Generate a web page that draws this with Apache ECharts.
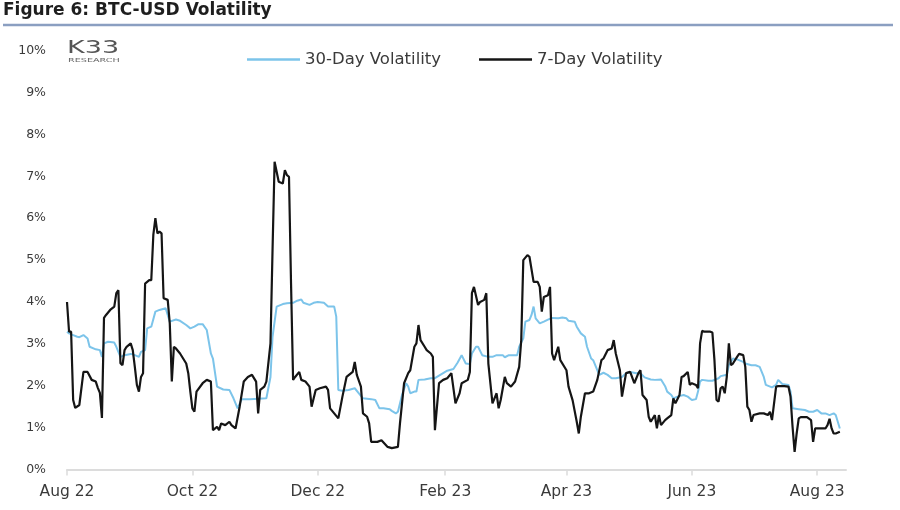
<!DOCTYPE html>
<html>
<head>
<meta charset="utf-8">
<script src="https://cdn.jsdelivr.net/npm/echarts@6/dist/echarts.min.js"></script>
<style>
html,body{margin:0;padding:0;background:#fff;}
#chart{width:900px;height:510px;}
</style>
</head>
<body>
<div id="chart"></div>
<script>
// ---- data ----
const startDate = '2022-08-01';           // day 0
// 7-Day volatility: day offsets since startDate and values (%)
const days7 = [0,1,2,3,4,6,8,10,12,14,15,16,17,18,19,21,23,24,25,26,27,28,29,31,32,33,34,35,36,37,38,40,41,42,43,44,45,46,47,49,50,51,52,53,55,58,59,60,61,62,63,66,68,70,71,73,74,75,77,79,80,82,84,86,88,90,92,93,94,96,97,99,100,101,103,105,106,107,108,109,110,111,113,114,116,118,119,121,123,126,127,128,130,132,134,136,139,140,141,143,144,146,147,148,151,153,156,158,161,162,164,166,167,169,170,171,172,174,175,177,178,179,181,183,185,187,189,191,192,195,196,197,198,200,201,203,204,205,207,209,210,211,213,214,216,218,220,221,222,224,225,227,229,230,231,232,234,235,236,237,239,240,243,244,246,248,249,250,252,254,256,258,260,261,263,265,266,267,269,270,272,274,276,278,279,280,282,283,284,286,287,288,289,291,292,294,295,296,298,299,300,302,303,304,306,307,308,309,310,313,314,315,316,317,318,319,320,321,322,323,324,326,327,329,330,331,332,333,334,337,339,341,342,343,345,346,349,351,352,353,354,355,356,357,360,362,363,364,366,369,370,371,372,373,374,376];
const vol7 = [4.00,3.29,3.29,1.66,1.47,1.54,2.33,2.33,2.14,2.10,1.95,1.83,1.23,3.62,3.69,3.81,3.89,4.21,4.28,2.54,2.49,2.85,2.93,3.01,2.85,2.45,2.02,1.86,2.21,2.30,4.44,4.52,4.52,5.60,6.00,5.64,5.68,5.64,4.09,4.05,3.49,2.10,2.93,2.89,2.77,2.53,2.30,1.86,1.46,1.38,1.86,2.06,2.14,2.10,0.94,1.02,0.94,1.10,1.06,1.14,1.06,0.98,1.50,2.10,2.21,2.26,2.10,1.34,1.90,1.98,2.10,3.01,5.24,7.35,6.87,6.83,7.15,7.03,6.99,4.44,2.14,2.21,2.33,2.14,2.10,1.98,1.50,1.90,1.94,1.98,1.90,1.46,1.34,1.22,1.74,2.21,2.33,2.57,2.26,1.98,1.34,1.26,1.10,0.66,0.66,0.70,0.54,0.51,0.54,1.10,2.06,2.30,2.37,2.93,3.01,3.45,3.09,2.93,2.85,2.77,2.69,0.94,2.06,2.14,2.18,2.30,1.58,1.82,2.06,2.14,2.33,4.21,4.36,3.93,4.00,4.05,4.21,2.53,1.58,1.82,1.46,1.66,2.21,2.06,1.98,2.10,2.45,3.09,5.00,5.12,5.08,4.48,4.48,4.36,3.77,4.12,4.16,4.36,2.77,2.61,2.93,2.61,2.37,1.98,1.65,1.14,0.86,1.26,1.82,1.82,1.86,2.14,2.61,2.65,2.85,2.89,3.09,2.77,2.37,1.74,2.30,2.33,2.06,2.30,2.37,1.78,1.66,1.26,1.14,1.30,0.98,1.30,1.06,1.18,1.22,1.30,1.70,1.58,1.78,2.21,2.23,2.33,2.02,2.06,2.02,1.94,3.01,3.31,3.29,3.29,3.27,2.61,1.66,1.62,1.94,1.98,1.82,2.21,3.01,2.49,2.53,2.69,2.76,2.73,2.45,1.50,1.42,1.14,1.30,1.34,1.34,1.30,1.38,1.18,1.98,1.99,1.99,1.98,1.74,1.02,0.42,0.86,1.22,1.25,1.25,1.18,0.66,0.98,0.98,0.98,1.06,1.21,0.98,0.86,0.86,0.90];
// 30-Day volatility
const days30 = [0,1,3,5,6,8,10,11,14,16,17,18,20,23,24,26,28,31,33,35,36,38,39,41,43,45,48,49,50,53,55,58,60,62,64,66,68,70,71,73,76,79,81,83,85,89,97,99,100,102,105,107,110,112,114,115,118,120,122,125,127,130,131,132,134,137,140,142,144,148,150,152,154,157,158,160,161,163,165,166,167,169,170,171,174,177,179,182,185,188,190,192,194,196,197,199,200,202,205,207,209,212,213,215,219,220,222,223,225,226,227,228,230,232,234,236,239,241,243,244,247,248,250,252,253,255,256,258,259,261,263,265,267,270,272,274,277,279,281,284,286,289,291,292,294,295,297,300,302,304,306,307,308,309,312,314,317,318,321,322,324,326,329,330,333,335,337,339,340,343,345,346,348,351,352,353,356,359,361,363,365,367,369,371,373,374,376];
const vol30 = [3.29,3.25,3.21,3.17,3.16,3.21,3.13,2.93,2.87,2.85,2.69,3.01,3.05,3.03,2.93,2.69,2.73,2.76,2.73,2.69,2.81,2.85,3.37,3.41,3.77,3.81,3.85,3.69,3.53,3.58,3.55,3.45,3.37,3.41,3.47,3.47,3.33,2.77,2.65,1.98,1.91,1.90,1.70,1.46,1.68,1.68,1.70,2.21,3.17,3.89,3.95,3.97,3.98,4.03,4.06,3.98,3.93,3.98,4.00,3.98,3.89,3.89,3.65,1.90,1.88,1.90,1.94,1.82,1.70,1.68,1.66,1.46,1.46,1.44,1.40,1.34,1.38,1.78,2.06,1.98,1.82,1.86,1.86,2.14,2.15,2.18,2.18,2.27,2.36,2.40,2.55,2.73,2.53,2.52,2.77,2.93,2.93,2.73,2.69,2.69,2.73,2.73,2.68,2.73,2.73,2.93,3.13,3.53,3.57,3.69,3.89,3.61,3.49,3.53,3.58,3.62,3.61,3.63,3.61,3.55,3.53,3.41,3.25,3.17,2.93,2.65,2.61,2.37,2.26,2.31,2.26,2.18,2.18,2.21,2.30,2.33,2.30,2.30,2.20,2.15,2.14,2.15,1.99,1.86,1.78,1.70,1.74,1.78,1.74,1.66,1.68,1.86,2.10,2.14,2.12,2.12,2.18,2.23,2.26,2.49,2.65,2.63,2.57,2.53,2.49,2.49,2.45,2.21,2.02,1.96,2.02,2.14,2.04,2.02,1.86,1.46,1.44,1.42,1.38,1.38,1.42,1.34,1.34,1.30,1.34,1.30,0.98];
// axis ticks
const yTicks = [0,1,2,3,4,5,6,7,8,9,10];
const xTickDates = ['2022-08-01','2022-10-01','2022-12-01','2023-02-01','2023-04-01','2023-06-01','2023-08-01'];
const xTickLabels = ['Aug 22','Oct 22','Dec 22','Feb 23','Apr 23','Jun 23','Aug 23'];
const axisEndDay = 379;

// ---- build ----
const DAY = 86400000;
const t0 = Date.parse(startDate + 'T00:00:00Z');
const tickDays = xTickDates.map(s => Math.round((Date.parse(s + 'T00:00:00Z') - t0) / DAY));
const pairs = (ds, vs) => ds.map((d, i) => [d, vs[i]]);

const FONT = "'DejaVu Sans', 'Open Sans', sans-serif";
const chart = echarts.init(document.getElementById('chart'), null, {renderer: 'canvas'});
chart.setOption({
  animation: false,
  backgroundColor: '#ffffff',
  textStyle: {fontFamily: FONT},
  graphic: [
    {type: 'text', left: 3, top: 2, style: {text: 'Figure 6: BTC-USD Volatility', fontFamily: FONT, fontWeight: 'bold', fontSize: 17, fill: '#1e1e1e'}},
    {type: 'line', shape: {x1: 3, y1: 25, x2: 893, y2: 25}, style: {stroke: '#8b9fc1', lineWidth: 2.5}},
    {type: 'text', x: 67, y: 39, scaleX: 1.5, style: {text: 'K33', fontFamily: FONT, fontWeight: 'normal', fontSize: 18, fill: '#555555'}},
    {type: 'text', x: 68, y: 57.5, scaleX: 1.75, style: {text: 'RESEARCH', fontFamily: FONT, fontSize: 5.5, fill: '#666666'}}
  ],
  legend: {
    left: 247, top: 51, padding: 0,
    itemWidth: 53, itemHeight: 2.5, itemGap: 38,
    icon: 'rect',
    textStyle: {fontSize: 16.5, color: '#3a3a3a', fontFamily: FONT},
    data: ['30-Day Volatility', '7-Day Volatility']
  },
  grid: {left: 67, right: 54, top: 50.7, bottom: 40.5, containLabel: false},
  xAxis: {
    type: 'value',
    min: 0, max: axisEndDay,
    axisLine: {show: true, lineStyle: {color: '#dcdcdc', width: 2}},
    axisTick: {show: true, customValues: tickDays, length: 6, lineStyle: {color: '#dcdcdc', width: 1.5}},
    axisLabel: {
      customValues: tickDays, margin: 14, fontSize: 15.5, color: '#3a3a3a', fontFamily: FONT,
      formatter: v => { const i = tickDays.indexOf(v); return i >= 0 ? xTickLabels[i] : ''; }
    },
    splitLine: {show: false}
  },
  yAxis: {
    type: 'value', min: yTicks[0], max: yTicks[yTicks.length - 1], interval: 1,
    axisLine: {show: false}, axisTick: {show: false}, splitLine: {show: false},
    axisLabel: {margin: 21, fontSize: 12.5, color: '#3a3a3a', fontFamily: FONT, formatter: '{value}%'}
  },
  series: [
    {name: '30-Day Volatility', type: 'line', data: pairs(days30, vol30), showSymbol: false,
     itemStyle: {color: '#7cc4ea'}, lineStyle: {color: '#7cc4ea', width: 2}, z: 2},
    {name: '7-Day Volatility', type: 'line', data: pairs(days7, vol7), showSymbol: false,
     itemStyle: {color: '#151515'}, lineStyle: {color: '#151515', width: 2.2}, z: 3}
  ]
});
</script>
</body>
</html>
